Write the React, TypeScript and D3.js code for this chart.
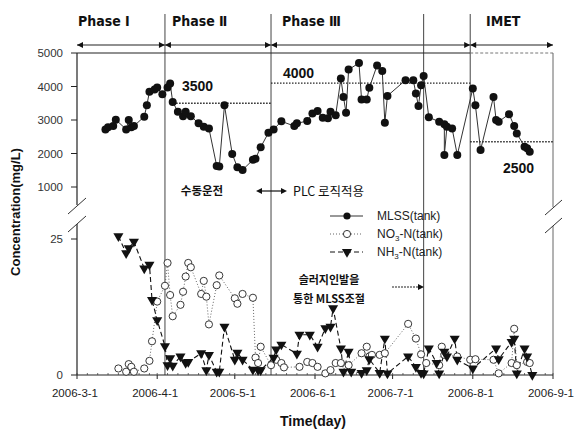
import React from 'react';
import * as d3 from 'd3';

// MLSS in tank (mg/L), upper panel
const mlss: [string, number][] = [
  ['2006-03-12', 2720], ['2006-03-13', 2780], ['2006-03-15', 2820], ['2006-03-16', 3010],
  ['2006-03-20', 2720], ['2006-03-21', 3000], ['2006-03-22', 2780], ['2006-03-23', 2820],
  ['2006-03-27', 3100], ['2006-03-28', 3440], ['2006-03-29', 3840], ['2006-03-31', 3910],
  ['2006-04-01', 3970], ['2006-04-03', 3770], ['2006-04-05', 3970], ['2006-04-06', 4090],
  ['2006-04-07', 3540], ['2006-04-09', 3245], ['2006-04-11', 3115], ['2006-04-12', 3245],
  ['2006-04-14', 3115], ['2006-04-17', 2900], ['2006-04-19', 2800], ['2006-04-21', 2750],
  ['2006-04-24', 1630], ['2006-04-25', 1610], ['2006-04-27', 3440], ['2006-04-30', 1985],
  ['2006-05-02', 1590], ['2006-05-04', 1510], ['2006-05-08', 1810], ['2006-05-09', 1845],
  ['2006-05-11', 2185], ['2006-05-14', 2620], ['2006-05-16', 2720], ['2006-05-19', 2960],
  ['2006-05-24', 2820], ['2006-05-25', 2900], ['2006-05-29', 2970], ['2006-05-31', 3195],
  ['2006-06-02', 3265], ['2006-06-04', 3065], ['2006-06-06', 3050], ['2006-06-07', 3245],
  ['2006-06-09', 3145], ['2006-06-11', 4240], ['2006-06-12', 3690], ['2006-06-13', 3215],
  ['2006-06-14', 4505], ['2006-06-18', 4700], ['2006-06-19', 3610], ['2006-06-21', 3610],
  ['2006-06-22', 3960], ['2006-06-25', 4630], ['2006-06-27', 4465], ['2006-06-28', 2920],
  ['2006-06-29', 3720], ['2006-07-06', 4190], ['2006-07-09', 4190], ['2006-07-10', 3790],
  ['2006-07-11', 3420], ['2006-07-12', 4040], ['2006-07-13', 4315], ['2006-07-15', 3080],
  ['2006-07-19', 2950], ['2006-07-21', 2870], ['2006-07-21', 1955], ['2006-07-22', 2800],
  ['2006-07-24', 2750], ['2006-07-26', 1955], ['2006-08-01', 3940], ['2006-08-02', 3440],
  ['2006-08-04', 2105], ['2006-08-09', 3690], ['2006-08-10', 3000], ['2006-08-11', 2950],
  ['2006-08-15', 3175], ['2006-08-17', 2820], ['2006-08-18', 2600], ['2006-08-21', 2205],
  ['2006-08-22', 2155], ['2006-08-23', 2055],
];

// NO3-N in tank (mg/L), lower panel
const no3: [string, number][] = [
  ['2006-03-17', 1.2], ['2006-03-20', 0.6], ['2006-03-21', 2.0], ['2006-03-22', 1.5],
  ['2006-03-23', 0.6], ['2006-03-27', 1.2], ['2006-03-29', 2.6], ['2006-03-30', 6.2],
  ['2006-04-01', 13.5], ['2006-04-04', 16.4], ['2006-04-05', 20.6], ['2006-04-06', 14.7],
  ['2006-04-07', 10.8], ['2006-04-10', 12.9], ['2006-04-11', 15.3], ['2006-04-12', 18.1],
  ['2006-04-13', 20.6], ['2006-04-14', 19.8], ['2006-04-18', 14.9], ['2006-04-19', 17.3],
  ['2006-04-20', 14.4], ['2006-04-21', 9.3], ['2006-04-24', 16.5], ['2006-04-25', 18.3],
  ['2006-05-01', 14.1], ['2006-05-02', 13.1], ['2006-05-04', 14.9], ['2006-05-08', 14.2],
  ['2006-05-09', 3.2], ['2006-05-10', 2.2], ['2006-05-11', 5.2], ['2006-05-15', 1.8],
  ['2006-05-17', 2.8], ['2006-05-19', 2.2], ['2006-05-20', 1.4], ['2006-05-26', 1.5],
  ['2006-05-29', 2.4], ['2006-05-31', 2.2], ['2006-06-02', 1.5], ['2006-06-05', 0.3],
  ['2006-06-07', 0.9], ['2006-06-09', 2.2], ['2006-06-11', 2.2], ['2006-06-14', 1.8],
  ['2006-06-19', 4.0], ['2006-06-21', 5.2], ['2006-06-22', 3.4], ['2006-06-23', 3.7],
  ['2006-06-26', 3.7], ['2006-06-28', 4.0], ['2006-07-07', 9.4], ['2006-07-10', 6.7],
  ['2006-07-12', 3.8], ['2006-07-14', 2.2], ['2006-07-19', 1.8], ['2006-07-20', 5.2],
  ['2006-07-21', 3.7], ['2006-07-26', 3.4], ['2006-07-31', 2.8], ['2006-08-02', 2.9],
  ['2006-08-09', 2.8], ['2006-08-11', 0.3], ['2006-08-16', 2.2], ['2006-08-17', 8.5],
  ['2006-08-18', 1.8], ['2006-08-22', 2.4], ['2006-08-23', 2.2],
];

// NH3-N in tank (mg/L), lower panel
const nh3: [string, number][] = [
  ['2006-03-17', 25.5], ['2006-03-20', 22.4], ['2006-03-21', 23.3], ['2006-03-23', 24.5],
  ['2006-03-27', 19.6], ['2006-03-29', 20.3], ['2006-03-30', 13.8], ['2006-04-01', 10.1],
  ['2006-04-04', 5.3], ['2006-04-05', 1.8], ['2006-04-06', 3.1], ['2006-04-07', 1.7],
  ['2006-04-10', 3.4], ['2006-04-12', 2.2], ['2006-04-13', 2.4], ['2006-04-18', 4.0],
  ['2006-04-20', 0.9], ['2006-04-21', 3.7], ['2006-04-24', 0.6], ['2006-04-25', 0.6],
  ['2006-04-27', 8.9], ['2006-05-01', 2.8], ['2006-05-02', 4.1], ['2006-05-04', 2.8],
  ['2006-05-08', 1.0], ['2006-05-10', 0.9], ['2006-05-11', 0.9], ['2006-05-16', 3.2],
  ['2006-05-17', 4.7], ['2006-05-19', 5.6], ['2006-05-25', 3.9], ['2006-05-26', 7.4],
  ['2006-05-30', 7.4], ['2006-06-02', 5.2], ['2006-06-05', 8.6], ['2006-06-07', 8.9],
  ['2006-06-08', 12.3], ['2006-06-11', 4.9], ['2006-06-12', 0.6], ['2006-06-14', 4.3],
  ['2006-06-15', 0.6], ['2006-06-19', 0.4], ['2006-06-21', 0.9], ['2006-06-22', 2.9],
  ['2006-06-26', 0.4], ['2006-06-28', 6.7], ['2006-06-29', 0.3], ['2006-07-07', 3.4],
  ['2006-07-10', 1.5], ['2006-07-12', 0.4], ['2006-07-13', 0.3], ['2006-07-15', 4.9],
  ['2006-07-18', 2.2], ['2006-07-19', 0.3], ['2006-07-21', 4.3], ['2006-07-22', 3.4],
  ['2006-07-25', 6.7], ['2006-07-26', 2.8], ['2006-08-01', 1.2], ['2006-08-10', 4.9],
  ['2006-08-11', 2.9], ['2006-08-16', 6.1], ['2006-08-17', 6.7], ['2006-08-18', 0.3],
  ['2006-08-21', 4.9], ['2006-08-22', 3.4], ['2006-08-24', 0.0],
];

const phaseNames = ['Phase Ⅰ', 'Phase Ⅱ', 'Phase Ⅲ', 'IMET'];
const phaseBounds = ['2006-03-01', '2006-04-04', '2006-05-15', '2006-07-31', '2006-09-01'];
const extraLine = '2006-07-13'; // sludge withdrawal start

// target MLSS per phase
const targets: [string, string, number, string][] = [
  ['2006-04-06', '2006-05-15', 3500, '3500'],
  ['2006-05-15', '2006-07-31', 4100, '4000'],
  ['2006-07-31', '2006-09-01', 2350, '2500'],
];

const upperTicks = [1000, 2000, 3000, 4000, 5000];
const lowerTicks = [0, 25];

const parse = d3.timeParse('%Y-%m-%d');
const fmt = d3.timeFormat('%Y-%-m-%-d');

export default function App() {
  const x = d3.scaleTime().domain([parse('2006-03-01')!, parse('2006-09-01')!]).range([77, 553]);
  const yU = d3.scaleLinear().domain([1000, 5000]).range([187, 53]);
  const yL = d3.scaleLinear().domain([0, 25]).range([375, 239]);

  const X = (s: string) => x(parse(s)!);
  const lineU = d3.line<[string, number]>().x(d => X(d[0])).y(d => yU(d[1]));
  const lineL = d3.line<[string, number]>().x(d => X(d[0])).y(d => yL(d[1]));
  const tri = d3.symbol(d3.symbolTriangle, 44)()!;

  const monthTicks = x.ticks(d3.timeMonth.every(1)!);
  const minorTicks = x.ticks(d3.timeDay.every(4)!);

  const font = "'Liberation Sans', Arial, 'Noto Sans CJK KR', sans-serif";
  const kfont = "'Noto Sans CJK KR', 'Liberation Sans', sans-serif";
  const pfont = "'DejaVu Sans Condensed', 'DejaVu Sans', sans-serif";
  const phaseLabelX = [78, 172, 282, 486];
  const targetLabel: [number, number][] = [[182, 91], [283, 78], [503, 173]];

  const arrowHead = (px: number, py: number, dir: number) =>
    `M${px},${py} L${px - dir * 6},${py - 3} L${px - dir * 6},${py + 3} Z`;

  return (
    <svg width={577} height={433} style={{ position: 'absolute', left: 0, top: 0, background: '#fff' }}
      fontFamily={font}>
      {/* phase arrows and labels */}
      {phaseNames.map((n, i) => {
        const a = X(phaseBounds[i]), b = X(phaseBounds[i + 1]);
        return (
          <g key={n}>
            <line x1={a} x2={b} y1={45} y2={45} stroke="#222" strokeWidth={1.2} />
            <path d={arrowHead(b, 45, 1)} fill="#111" />
            <path d={arrowHead(a, 45, -1)} fill="#111" />
            <text x={phaseLabelX[i]} y={26} fontSize={14} fontWeight="bold" fontFamily={pfont} fill="#111">{n}</text>
          </g>
        );
      })}

      {/* phase boundary lines */}
      {phaseBounds.slice(1, 4).concat([extraLine]).map(d => (
        <line key={d} x1={X(d)} x2={X(d)} y1={14} y2={375} stroke="#444" strokeWidth={1} />
      ))}

      {/* frame */}
      <line x1={77} x2={X(phaseBounds[3])} y1={53} y2={53} stroke="#222" strokeWidth={1.2} />
      <line x1={X(phaseBounds[3])} x2={553} y1={53} y2={53} stroke="#777" strokeWidth={1} strokeDasharray="3,2" />
      <line x1={553} x2={553} y1={53} y2={207} stroke="#666" strokeWidth={1} />
      <line x1={553} x2={553} y1={226} y2={375} stroke="#666" strokeWidth={1} />
      <line x1={77} x2={77} y1={53} y2={205} stroke="#222" strokeWidth={1.2} />
      <line x1={77} x2={77} y1={224} y2={375} stroke="#222" strokeWidth={1.2} />
      <line x1={77} x2={553} y1={375} y2={375} stroke="#222" strokeWidth={1.2} />

      {/* axis breaks */}
      <line x1={68} y1={214} x2={86} y2={198} stroke="#333" />
      <line x1={68} y1={232} x2={86} y2={216} stroke="#333" />
      <line x1={545} y1={215} x2={562} y2={200} stroke="#333" />
      <line x1={545} y1={233} x2={562} y2={218} stroke="#333" />

      {/* y ticks */}
      {upperTicks.map(t => (
        <g key={'u' + t}>
          <line x1={71} x2={77} y1={yU(t)} y2={yU(t)} stroke="#222" />
          <text x={63} y={yU(t) + 4} fontSize={11.5} textAnchor="end" fill="#333">{t}</text>
        </g>
      ))}
      {lowerTicks.map(t => (
        <g key={'l' + t}>
          <line x1={71} x2={77} y1={yL(t)} y2={yL(t)} stroke="#222" />
          <text x={63} y={yL(t) + 4} fontSize={11.5} textAnchor="end" fill="#333">{t}</text>
        </g>
      ))}

      {/* x ticks */}
      {minorTicks.map((t, i) => (
        <line key={'m' + i} x1={x(t)} x2={x(t)} y1={375} y2={373} stroke="#444" strokeWidth={0.8} />
      ))}
      {monthTicks.map((t, i) => (
        <g key={'t' + i}>
          <line x1={x(t)} x2={x(t)} y1={375} y2={379} stroke="#222" />
          <text x={x(t) - 2} y={397} fontSize={11.5} textAnchor="middle" fill="#222">{fmt(t)}</text>
        </g>
      ))}

      {/* axis titles */}
      <text transform="translate(20,212) rotate(-90)" fontSize={13} fontWeight="bold" textAnchor="middle" fill="#111">
        Concentration(mg/L)
      </text>
      <text x={313} y={426} fontSize={14} fontWeight="bold" textAnchor="middle" fill="#111">Time(day)</text>

      {/* target levels */}
      {targets.map(([a, b, v, lab], i) => (
        <g key={lab}>
          <line x1={X(a)} x2={X(b)} y1={yU(v)} y2={yU(v)} stroke="#222" strokeWidth={1.4} strokeDasharray="1.5,1.5" />
          <text x={targetLabel[i][0]} y={targetLabel[i][1]} fontSize={14} fontWeight="bold" fill="#111">{lab}</text>
        </g>
      ))}

      {/* annotations */}
      <text x={202} y={195} fontSize={11.5} fontWeight="bold" textAnchor="middle" fontFamily={kfont} fill="#111">수동운전</text>
      <line x1={258} x2={285} y1={191} y2={191} stroke="#111" strokeWidth={1.2} />
      <path d={arrowHead(287, 191, 1)} fill="#111" />
      <path d={arrowHead(256, 191, -1)} fill="#111" />
      <text x={293} y={196} fontSize={12.5} fill="#111" fontFamily={kfont}>PLC 로직적용</text>

      <text x={329} y={284} fontSize={11} fontWeight="bold" textAnchor="middle" fontFamily={kfont} fill="#111">슬러지인발을</text>
      <text x={329} y={303} fontSize={11} fontWeight="bold" textAnchor="middle" fontFamily={kfont} fill="#111">통한 MLSS조절</text>
      <line x1={392} x2={419} y1={287} y2={287} stroke="#222" strokeWidth={1.2} strokeDasharray="2,1" />
      <path d={arrowHead(424, 287, 1)} fill="#111" />

      {/* series lines */}
      <path d={lineU(mlss)!} fill="none" stroke="#333" strokeWidth={1} />
      <path d={lineL(no3)!} fill="none" stroke="#666" strokeWidth={1} strokeDasharray="1,2" />
      <path d={lineL(nh3)!} fill="none" stroke="#111" strokeWidth={1.1} strokeDasharray="5,3" />

      {/* markers */}
      {mlss.map((d, i) => (
        <circle key={'c' + i} cx={X(d[0])} cy={yU(d[1])} r={4} fill="#111" />
      ))}
      {no3.map((d, i) => (
        <circle key={'o' + i} cx={X(d[0])} cy={yL(d[1])} r={3.6} fill="#fff" stroke="#222" strokeWidth={0.9} />
      ))}
      {nh3.map((d, i) => (
        <path key={'v' + i} d={tri} transform={`translate(${X(d[0])},${yL(d[1])}) rotate(180)`} fill="#111" />
      ))}

      {/* legend */}
      <g fontSize={12} fill="#222">
        <line x1={330} x2={363} y1={216} y2={216} stroke="#333" />
        <circle cx={347} cy={216} r={3.6} fill="#111" />
        <text x={377} y={220}>MLSS(tank)</text>
        <line x1={330} x2={363} y1={234} y2={234} stroke="#666" strokeDasharray="1,2" />
        <circle cx={347} cy={234} r={3.6} fill="#fff" stroke="#222" strokeWidth={0.9} />
        <text x={377} y={238}>NO<tspan fontSize={8} dy={3}>3</tspan><tspan dy={-3}>-N(tank)</tspan></text>
        <line x1={330} x2={363} y1={252} y2={252} stroke="#111" strokeDasharray="5,3" />
        <path d={tri} transform="translate(347,252) rotate(180)" fill="#111" />
        <text x={377} y={256}>NH<tspan fontSize={8} dy={3}>3</tspan><tspan dy={-3}>-N(tank)</tspan></text>
      </g>
    </svg>
  );
}
